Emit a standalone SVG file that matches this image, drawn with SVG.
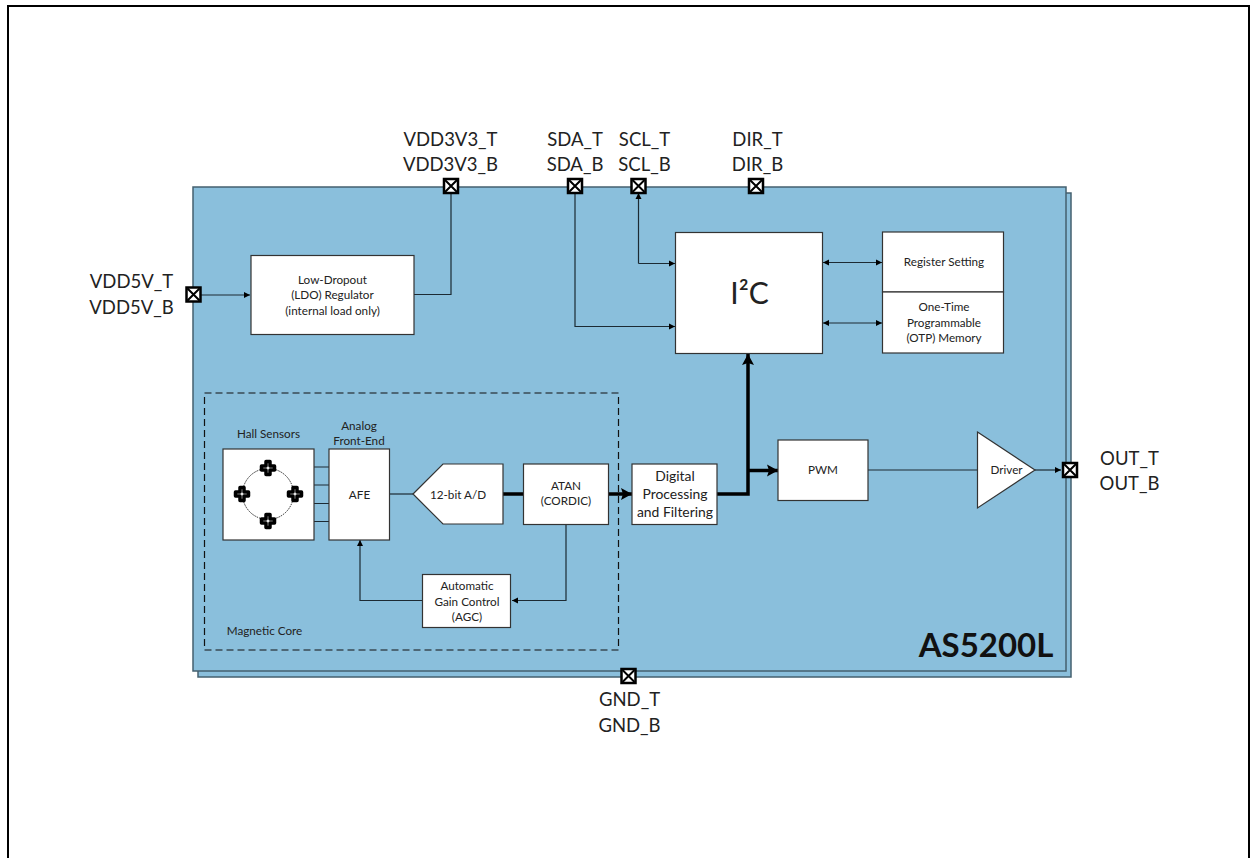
<svg xmlns="http://www.w3.org/2000/svg" width="1251" height="858" viewBox="0 0 1251 858">
<style>
text{font-family:"Lato","Liberation Sans",sans-serif;fill:#222;text-anchor:middle}
.pin{font-size:18.5px}
.s{font-size:11.7px}
.m{font-size:13.9px}
.box{fill:#fff;stroke:#333;stroke-width:1.2}
.w{fill:none;stroke:#1c2a33;stroke-width:1.2}
.t{fill:none;stroke:#000;stroke-width:3.5}
.x{fill:#fff;stroke:#000;stroke-width:2.5}
.xl{stroke:#000;stroke-width:2}
.hall{fill:#fff;stroke:#000;stroke-width:3.5;stroke-linejoin:round}
</style>
<defs>
<marker id="a" markerUnits="userSpaceOnUse" markerWidth="8" markerHeight="8" refX="7" refY="4" orient="auto-start-reverse"><path d="M1 1 L7 4 L1 7 Z" fill="#000"/></marker>
<marker id="b" markerUnits="userSpaceOnUse" markerWidth="14" markerHeight="14" refX="12" refY="7" orient="auto"><path d="M1 1 L12 7 L1 13 L3 7 Z" fill="#000"/></marker>
<g id="pinx"><rect class="x" x="-7" y="-7" width="14" height="14"/><path class="xl" d="M-6 -6 L6 6 M6 -6 L-6 6"/></g>
<path id="plus" class="hall" d="M-2 -6.500 H2 V-2 H6.500 V2 H2 V6.500 H-2 V2 H-6.500 V-2 H-2 Z"/>
</defs>
<rect id="frame" x="8" y="6" width="1241" height="870" fill="#fff" stroke="#000" stroke-width="2"/>
<g id="chip">
<rect x="198" y="193" width="873" height="484" fill="#8abfdc" stroke="#44606f" stroke-width="1.5"/>
<rect x="193" y="187" width="873" height="484" fill="#8abfdc" stroke="#44606f" stroke-width="1.5"/>
<text x="986" y="657" font-size="33" font-weight="700" style="fill:#111">AS5200L</text>
</g>
<g id="magnetic-core">
<rect x="204.500" y="393" width="414" height="257" fill="none" stroke="#111" stroke-width="1.2" stroke-dasharray="7 4"/>
<text x="264.500" y="635" class="s">Magnetic Core</text>
</g>
<g id="connectors">
<path class="w" d="M201 295 H250" marker-end="url(#a)"/>
<path class="w" d="M414 294.500 H451 V192"/>
<path class="w" d="M575 192 V326.500 H675" marker-end="url(#a)"/>
<path class="w" d="M638.500 263.500 V193" marker-end="url(#a)"/>
<path class="w" d="M638.500 263.500 H675" marker-end="url(#a)"/>
<path class="w" d="M823 262.500 H882" marker-start="url(#a)" marker-end="url(#a)"/>
<path class="w" d="M823 323 H882" marker-start="url(#a)" marker-end="url(#a)"/>
<path class="w" d="M314 467 H329 M314 485 H329 M314 503.500 H329 M314 521.500 H329"/>
<path class="w" d="M390 494 H413"/>
<path class="t" d="M503 494 H523"/>
<path class="t" d="M609 494 H632" marker-end="url(#b)"/>
<path class="t" d="M717 494 H748 V354" marker-end="url(#b)"/>
<path class="t" d="M748 470.500 H778" marker-end="url(#b)"/>
<path class="w" d="M566 525 V600.500 H512" marker-end="url(#a)"/>
<path class="w" d="M423 600.500 H360 V540" marker-end="url(#a)"/>
<path class="w" d="M868 470 H977"/>
<path class="w" d="M1035 470 H1061" marker-end="url(#a)"/>
</g>
<g id="ldo"><rect class="box" x="251" y="255.500" width="163" height="79"/>
<text class="s" x="332.500" y="284">Low-Dropout</text><text class="s" x="332.500" y="299">(LDO) Regulator</text><text class="s" x="332.500" y="315">(internal load only)</text></g>
<g id="i2c"><rect class="box" x="675.500" y="232.500" width="147" height="121"/>
<text x="749.500" y="304" font-size="30">I²C</text></g>
<g id="register"><rect class="box" x="882.500" y="232" width="121" height="60"/>
<text class="s" x="944" y="266">Register Setting</text></g>
<g id="otp"><rect class="box" x="882.500" y="292" width="121" height="61"/>
<text class="s" x="944" y="311">One-Time</text><text class="s" x="944" y="327">Programmable</text><text class="s" x="944" y="342">(OTP) Memory</text></g>
<g id="hall-sensors"><rect class="box" x="223" y="449" width="91" height="91"/>
<text class="s" x="268.500" y="438">Hall Sensors</text>
<circle cx="268" cy="494" r="25.500" fill="none" stroke="#222" stroke-width="1" stroke-dasharray="1.500 1"/>
<use href="#plus" x="268" y="468"/><use href="#plus" x="242" y="494"/><use href="#plus" x="295" y="494"/><use href="#plus" x="268" y="521"/></g>
<g id="afe"><rect class="box" x="329" y="449" width="60.500" height="91"/>
<text class="s" x="359" y="430">Analog</text><text class="s" x="359" y="445">Front-End</text><text class="s" x="359.500" y="499">AFE</text></g>
<g id="adc"><path class="box" d="M413 494 L443 464 H503 V524 H443 Z"/>
<text class="s" x="458" y="499">12-bit A/D</text></g>
<g id="atan"><rect class="box" x="523.500" y="464" width="85" height="60.500"/>
<text class="s" x="566" y="490">ATAN</text><text class="s" x="566" y="505">(CORDIC)</text></g>
<g id="agc"><rect class="box" x="422.500" y="574.500" width="88" height="53"/>
<text class="s" x="467" y="590">Automatic</text><text class="s" x="467" y="606">Gain Control</text><text class="s" x="467" y="621">(AGC)</text></g>
<g id="dsp"><rect class="box" x="632" y="464" width="85" height="60.500"/>
<text class="m" x="675" y="481">Digital</text><text class="m" x="675" y="499">Processing</text><text class="m" x="675" y="517">and Filtering</text></g>
<g id="pwm"><rect class="box" x="778" y="440" width="90" height="60.500"/>
<text class="s" x="823" y="474">PWM</text></g>
<g id="driver"><path class="box" d="M977.500 432 L1035 470 L977.500 508 Z"/>
<text class="s" x="1006.500" y="474">Driver</text></g>
<g id="pin-vdd5v"><use href="#pinx" x="193.500" y="294.500"/><text class="pin" x="131.500" y="288">VDD5V_T</text><text class="pin" x="131.500" y="314">VDD5V_B</text></g>
<g id="pin-vdd3v3"><use href="#pinx" x="451" y="186"/><text class="pin" x="450.500" y="146">VDD3V3_T</text><text class="pin" x="450.500" y="171">VDD3V3_B</text></g>
<g id="pin-sda"><use href="#pinx" x="575" y="186"/><text class="pin" x="575" y="146">SDA_T</text><text class="pin" x="575" y="171">SDA_B</text></g>
<g id="pin-scl"><use href="#pinx" x="638.500" y="186"/><text class="pin" x="644.500" y="146">SCL_T</text><text class="pin" x="644.500" y="171">SCL_B</text></g>
<g id="pin-dir"><use href="#pinx" x="756" y="186"/><text class="pin" x="757.500" y="146">DIR_T</text><text class="pin" x="757.500" y="171">DIR_B</text></g>
<g id="pin-out"><use href="#pinx" x="1070" y="470"/><text class="pin" x="1129.500" y="465">OUT_T</text><text class="pin" x="1129.500" y="490">OUT_B</text></g>
<g id="pin-gnd"><use href="#pinx" x="628.500" y="676"/><text class="pin" x="629.500" y="706">GND_T</text><text class="pin" x="629.500" y="732">GND_B</text></g>
</svg>
